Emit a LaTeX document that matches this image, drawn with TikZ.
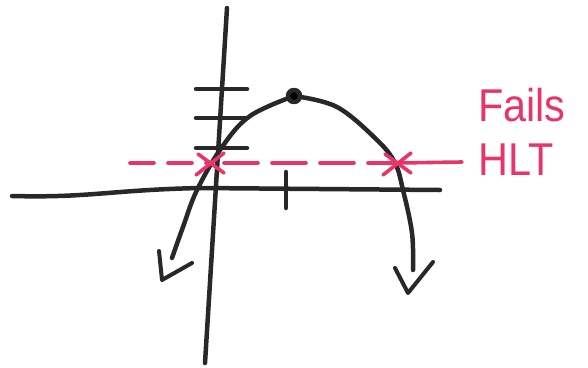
\documentclass[tikz,border=0pt]{standalone}
\usepackage{fontspec}
\setsansfont{Liberation Sans}
\usetikzlibrary{calc}
\definecolor{hltpink}{RGB}{232,52,102}
\definecolor{pen}{RGB}{40,40,40}
\tikzset{
  pen/.style={draw=pen,line width=4.5pt,line cap=round,line join=round},
  marker/.style={draw=hltpink,line width=3.6pt,line cap=round},
  vee/.style={pen,line width=4pt},
}

\begin{document}
\begin{tikzpicture}[x=1pt,y=-1pt]
\useasboundingbox (0,0) rectangle (588,367);

% axes
\draw[pen] (12,196) .. controls (90,198) and (110,190) .. (200,188) -- (440,190);
\draw[pen] (227,8) -- (205,363);

% ticks
\foreach \ty in {89,118,148}
  \draw[pen] (196,\ty) -- (247,\ty);
\draw[pen] (286,172) -- (286,208);

% parabola
\coordinate (vtx) at (294,96);
\draw[pen] plot[smooth,tension=0.6] coordinates {
  (172,258) (183,227) (197,190) (222,147) (250,116) (vtx)};
\draw[pen] plot[smooth,tension=0.6] coordinates {
  (vtx) (337,107) (377,140) (395,163) (403,190) (412,233) (413,270)};
\fill[pen] (vtx) circle (6);

% hand-drawn arrow heads
\draw[vee] (159,251) -- (162,280) -- (192,263);
\draw[vee] (395,268) -- (408,293) -- (433,262);

% horizontal line test
\coordinate (hl) at (210,163);
\coordinate (hr) at (397,163);
\draw[marker,dash pattern=on 24pt off 14pt] (130,163) -- (hl);
\draw[marker,dash pattern=on 34pt off 14pt,dash phase=-14pt] (hl) -- (hr);
\draw[marker] (hr) -- (462,162);
\foreach \p in {hl,hr} {
  \draw[marker] ($(\p)+(-14,12)$) -- ($(\p)+(14,-10)$);
  \draw[marker] ($(\p)+(-12,-9)$) -- ($(\p)+(14,10)$);
}

\node[text=hltpink,font=\sffamily\fontsize{46}{54}\selectfont,align=left,
  xscale=0.9,anchor=north west,inner sep=0pt] (fails) at (478,88)
  {Fails\\HLT};
\end{tikzpicture}
\end{document}
